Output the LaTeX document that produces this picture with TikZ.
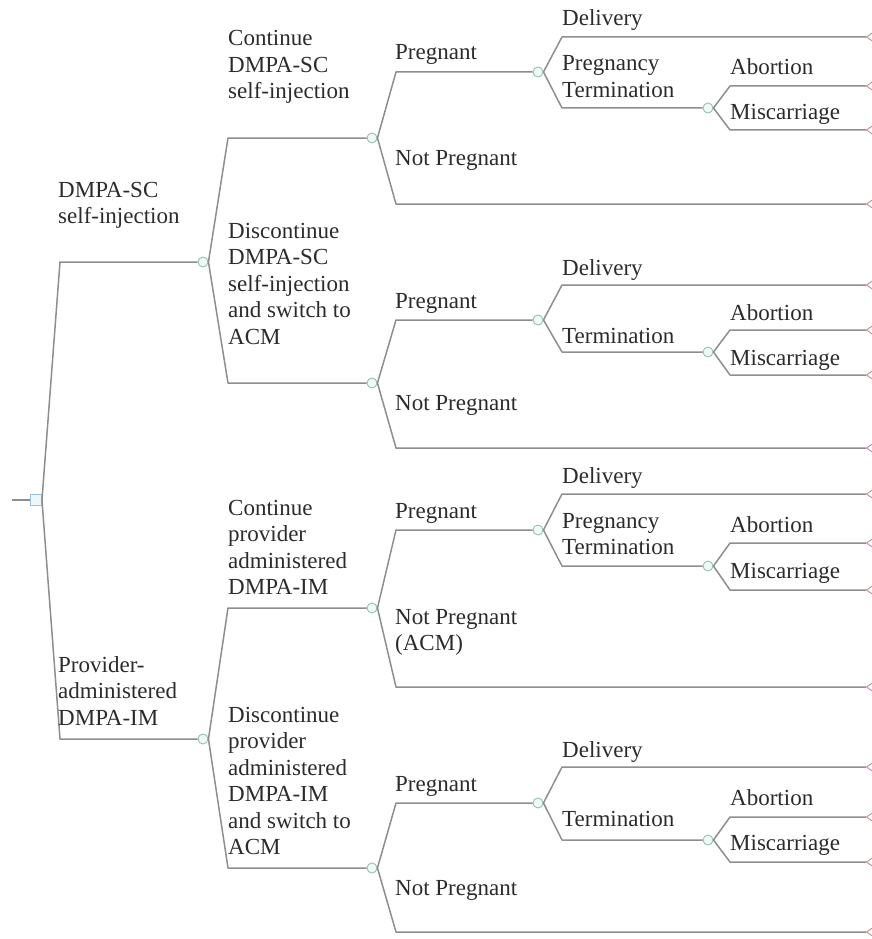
\documentclass[tikz,border=0pt]{standalone}
\usepackage{fontspec}
\setmainfont{Liberation Serif}
\usetikzlibrary{shapes.geometric}
\definecolor{linegray}{HTML}{8E8E8E}
\definecolor{chanceC}{HTML}{8FC2B2}
\definecolor{chanceF}{HTML}{F1F8F6}
\definecolor{decC}{HTML}{9CC0DC}
\definecolor{decF}{HTML}{EEF5FB}
\definecolor{termC}{HTML}{C98A95}
\definecolor{txt}{HTML}{2B2B2B}
\begin{document}
\begin{tikzpicture}[x=1pt,y=-1pt,
  br/.style={draw=linegray, line width=1.5pt, line join=round},
  chance/.style={circle, draw=chanceC, fill=chanceF, line width=0.9pt, minimum size=10pt, inner sep=0pt},
  decision/.style={rectangle, draw=decC, fill=decF, line width=0.9pt, minimum size=11pt, inner sep=0pt},
  term/.style={isosceles triangle, shape border rotate=180, draw=termC, line width=0.9pt, minimum height=7pt, minimum width=8pt, inner sep=0pt, isosceles triangle apex angle=70},
  lbl/.style={anchor=base west, align=left, inner sep=0pt, text=txt, font=\fontsize{23}{26.5}\selectfont}
]
\useasboundingbox (0,0) rectangle (872,939);
\clip (0,0) rectangle (872,939);

% root
\node[decision] (root) at (36,500) {};
\coordinate (stub) at (12,500);
\draw[br] (stub) -- (root.west);

% level 1
\node[chance] (A) at (203,262) {};
\node[chance] (B) at (203,739) {};
\coordinate (bA) at (60,262);
\coordinate (bB) at (60,739);
\draw[br] (root.east) -- (bA) -- (A.west);
\draw[br] (root.east) -- (bB) -- (B.west);

% level 2
\node[chance] (A1) at (372,138) {};
\node[chance] (A2) at (372,383) {};
\node[chance] (B1) at (372,608) {};
\node[chance] (B2) at (372,868) {};
\coordinate (bA1) at (228,138);
\coordinate (bA2) at (228,383);
\coordinate (bB1) at (228,608);
\coordinate (bB2) at (228,868);
\draw[br] (A.east) -- (bA1) -- (A1.west);
\draw[br] (A.east) -- (bA2) -- (A2.west);
\draw[br] (B.east) -- (bB1) -- (B1.west);
\draw[br] (B.east) -- (bB2) -- (B2.west);

% level 3 : pregnant nodes and not-pregnant terminals
\node[chance] (P1) at (538,72) {};
\node[chance] (P2) at (538,320) {};
\node[chance] (P3) at (538,530) {};
\node[chance] (P4) at (538,803) {};
\node[term] (N1) at (871,204) {};
\node[term] (N2) at (871,448) {};
\node[term] (N3) at (871,687) {};
\node[term] (N4) at (871,932) {};
\coordinate (bP1) at (396,72);  \coordinate (bN1) at (396,204);
\coordinate (bP2) at (396,320); \coordinate (bN2) at (396,448);
\coordinate (bP3) at (396,530); \coordinate (bN3) at (396,687);
\coordinate (bP4) at (396,803); \coordinate (bN4) at (396,932);
\draw[br] (A1.east) -- (bP1) -- (P1.west);
\draw[br] (A1.east) -- (bN1) -- (N1.apex);
\draw[br] (A2.east) -- (bP2) -- (P2.west);
\draw[br] (A2.east) -- (bN2) -- (N2.apex);
\draw[br] (B1.east) -- (bP3) -- (P3.west);
\draw[br] (B1.east) -- (bN3) -- (N3.apex);
\draw[br] (B2.east) -- (bP4) -- (P4.west);
\draw[br] (B2.east) -- (bN4) -- (N4.apex);

% level 4 : delivery terminals and termination nodes
\node[chance] (T1) at (708,108) {};
\node[chance] (T2) at (708,352) {};
\node[chance] (T3) at (708,566) {};
\node[chance] (T4) at (708,840) {};
\node[term] (D1) at (871,37) {};
\node[term] (D2) at (871,285) {};
\node[term] (D3) at (871,494) {};
\node[term] (D4) at (871,767) {};
\coordinate (bD1) at (562,37);  \coordinate (bT1) at (562,108);
\coordinate (bD2) at (562,285); \coordinate (bT2) at (562,352);
\coordinate (bD3) at (562,494); \coordinate (bT3) at (562,566);
\coordinate (bD4) at (562,767); \coordinate (bT4) at (562,840);
\draw[br] (P1.east) -- (bD1) -- (D1.apex);
\draw[br] (P1.east) -- (bT1) -- (T1.west);
\draw[br] (P2.east) -- (bD2) -- (D2.apex);
\draw[br] (P2.east) -- (bT2) -- (T2.west);
\draw[br] (P3.east) -- (bD3) -- (D3.apex);
\draw[br] (P3.east) -- (bT3) -- (T3.west);
\draw[br] (P4.east) -- (bD4) -- (D4.apex);
\draw[br] (P4.east) -- (bT4) -- (T4.west);

% level 5 : abortion / miscarriage terminals
\node[term] (Ab1) at (871,86) {};
\node[term] (Mi1) at (871,130) {};
\node[term] (Ab2) at (871,330) {};
\node[term] (Mi2) at (871,375) {};
\node[term] (Ab3) at (871,543) {};
\node[term] (Mi3) at (871,590) {};
\node[term] (Ab4) at (871,817) {};
\node[term] (Mi4) at (871,862) {};
\coordinate (bAb1) at (730,86);  \coordinate (bMi1) at (730,130);
\coordinate (bAb2) at (730,330); \coordinate (bMi2) at (730,375);
\coordinate (bAb3) at (730,543); \coordinate (bMi3) at (730,590);
\coordinate (bAb4) at (730,817); \coordinate (bMi4) at (730,862);
\draw[br] (T1.east) -- (bAb1) -- (Ab1.apex);
\draw[br] (T1.east) -- (bMi1) -- (Mi1.apex);
\draw[br] (T2.east) -- (bAb2) -- (Ab2.apex);
\draw[br] (T2.east) -- (bMi2) -- (Mi2.apex);
\draw[br] (T3.east) -- (bAb3) -- (Ab3.apex);
\draw[br] (T3.east) -- (bMi3) -- (Mi3.apex);
\draw[br] (T4.east) -- (bAb4) -- (Ab4.apex);
\draw[br] (T4.east) -- (bMi4) -- (Mi4.apex);

% labels (anchor = baseline of the last line)
\node[lbl] (LA)  at (58,223.5) {DMPA-SC\\self-injection};
\node[lbl] (LB)  at (58,725) {Provider-\\administered\\DMPA-IM};
\node[lbl] (LA1) at (228,99) {Continue\\DMPA-SC\\self-injection};
\node[lbl] (LA2) at (228,344) {Discontinue\\DMPA-SC\\self-injection\\and switch to\\ACM};
\node[lbl] (LB1) at (228,594.5) {Continue\\provider\\administered\\DMPA-IM};
\node[lbl] (LB2) at (228,854.5) {Discontinue\\provider\\administered\\DMPA-IM\\and switch to\\ACM};

\node[lbl] (LP1) at (395,60) {Pregnant};
\node[lbl] (LP2) at (395,308) {Pregnant};
\node[lbl] (LP3) at (395,518) {Pregnant};
\node[lbl] (LP4) at (395,791) {Pregnant};
\node[lbl] (LN1) at (395,165) {Not Pregnant};
\node[lbl] (LN2) at (395,410) {Not Pregnant};
\node[lbl] (LN3) at (395,650.5) {Not Pregnant\\(ACM)};
\node[lbl] (LN4) at (395,895) {Not Pregnant};

\node[lbl] (LD1) at (562,26) {Delivery};
\node[lbl] (LD2) at (562,275) {Delivery};
\node[lbl] (LD3) at (562,483) {Delivery};
\node[lbl] (LD4) at (562,757) {Delivery};
\node[lbl] (LT1) at (562,97.5) {Pregnancy\\Termination};
\node[lbl] (LT2) at (562,343) {Termination};
\node[lbl] (LT3) at (562,554.5) {Pregnancy\\Termination};
\node[lbl] (LT4) at (562,826) {Termination};

\node[lbl] (LAb1) at (730,75) {Abortion};
\node[lbl] (LAb2) at (730,320) {Abortion};
\node[lbl] (LAb3) at (730,532) {Abortion};
\node[lbl] (LAb4) at (730,805) {Abortion};
\node[lbl] (LMi1) at (730,120) {Miscarriage};
\node[lbl] (LMi2) at (730,365) {Miscarriage};
\node[lbl] (LMi3) at (730,578) {Miscarriage};
\node[lbl] (LMi4) at (730,850) {Miscarriage};
\end{tikzpicture}
\end{document}
